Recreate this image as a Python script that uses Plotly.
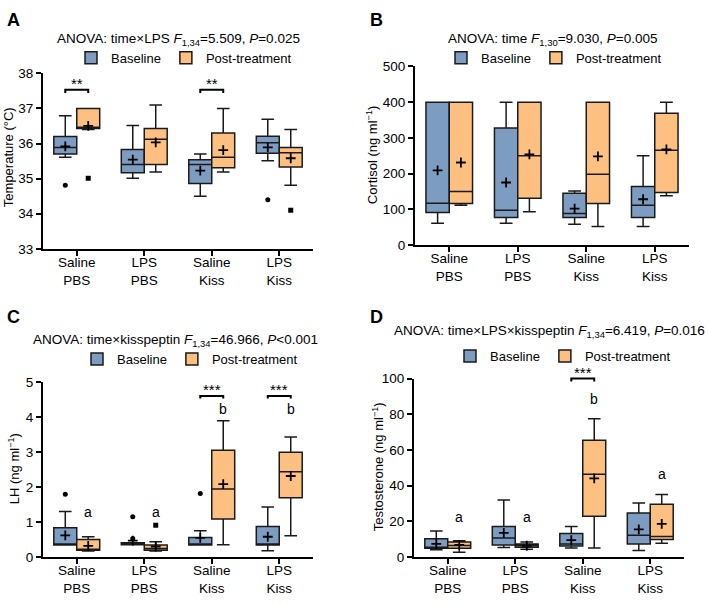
import plotly.graph_objects as go

# ---------------- data ----------------
CATS = ["Saline<br>PBS", "LPS<br>PBS", "Saline<br>Kiss", "LPS<br>Kiss"]
SERIES = ["Baseline", "Post-treatment"]

# Panel A: Temperature (°C)
temp_base_lo   = [35.61, 35.01, 34.50, 35.51]
temp_base_q1   = [35.70, 35.17, 34.86, 35.72]
temp_base_med  = [35.89, 35.40, 35.40, 36.02]
temp_base_q3   = [36.20, 35.83, 35.54, 36.21]
temp_base_hi   = [36.79, 36.51, 35.70, 36.69]
temp_base_mean = [35.92, 35.54, 35.23, 35.89]
temp_base_out_cat = [0, 3]
temp_base_out_val = [34.81, 34.40]
temp_post_lo   = [36.40, 35.19, 35.19, 34.81]
temp_post_q1   = [36.43, 35.40, 35.31, 35.33]
temp_post_med  = [36.46, 36.12, 35.61, 35.74]
temp_post_q3   = [37.00, 36.43, 36.30, 35.89]
temp_post_hi   = [37.00, 37.10, 37.00, 36.40]
temp_post_mean = [36.50, 36.03, 35.81, 35.58]
temp_post_out_cat = [0, 3]
temp_post_out_val = [35.01, 34.10]

# Panel B: Cortisol (ng/ml)
cort_base_lo   = [61, 61, 58, 52]
cort_base_q1   = [91, 77, 77, 77]
cort_base_med  = [117, 97, 88, 111]
cort_base_q3   = [400, 328, 145, 164]
cort_base_hi   = [400, 400, 151, 250]
cort_base_mean = [209, 175, 102, 128]
cort_base_out_cat = []
cort_base_out_val = []
cort_post_lo   = [111, 93, 52, 138]
cort_post_q1   = [116, 131, 116, 147]
cort_post_med  = [150, 250, 198, 265]
cort_post_q3   = [400, 400, 400, 369]
cort_post_hi   = [400, 400, 400, 400]
cort_post_mean = [231, 254, 248, 268]
cort_post_out_cat = []
cort_post_out_val = []

# Panel C: LH (ng/ml)
lh_base_lo   = [0.34, 0.35, 0.34, 0.18]
lh_base_q1   = [0.34, 0.35, 0.34, 0.34]
lh_base_med  = [0.35, 0.38, 0.36, 0.36]
lh_base_q3   = [0.84, 0.41, 0.56, 0.87]
lh_base_hi   = [1.30, 0.41, 0.75, 1.43]
lh_base_mean = [0.62, 0.47, 0.55, 0.58]
lh_base_out_cat = [0, 1, 1, 2]
lh_base_out_val = [1.80, 1.15, 0.53, 1.82]
lh_post_lo   = [0.17, 0.17, 0.35, 0.61]
lh_post_q1   = [0.19, 0.19, 1.09, 1.70]
lh_post_med  = [0.22, 0.24, 1.95, 2.44]
lh_post_q3   = [0.50, 0.34, 3.06, 3.00]
lh_post_hi   = [0.58, 0.44, 3.90, 3.44]
lh_post_mean = [0.32, 0.30, 2.09, 2.32]
lh_post_out_cat = [1]
lh_post_out_val = [0.91]

# Panel D: Testosterone (ng/ml)
tes_base_lo   = [4.0, 5.3, 5.1, 3.6]
tes_base_q1   = [4.9, 6.7, 6.2, 7.3]
tes_base_med  = [5.5, 10.7, 7.3, 12.2]
tes_base_q3   = [10.2, 17.1, 13.1, 24.6]
tes_base_hi   = [14.6, 31.9, 17.1, 30.2]
tes_base_mean = [7.3, 13.5, 9.5, 15.5]
tes_base_out_cat = []
tes_base_out_val = []
tes_post_lo   = [2.7, 4.4, 5.1, 7.7]
tes_post_q1   = [4.9, 5.5, 22.8, 9.8]
tes_post_med  = [6.5, 6.4, 46.3, 11.5]
tes_post_q3   = [8.4, 7.3, 65.4, 29.5]
tes_post_hi   = [9.1, 8.4, 77.4, 35.0]
tes_post_mean = [6.8, 6.3, 44.1, 18.6]
tes_post_out_cat = []
tes_post_out_val = []

# significance marks: (category, text, value)
temp_sig_cat, temp_sig_txt, temp_sig_val = [0, 2], ["**", "**"], [37.53, 37.53]
lh_sig_cat, lh_sig_txt, lh_sig_val = [2, 3], ["***", "***"], [4.61, 4.61]
tes_sig_cat, tes_sig_txt, tes_sig_val = [2], ["***"], [100.0]
lh_let_cat, lh_let_txt, lh_let_val = [0, 1, 2, 3], ["a", "a", "b", "b"], [1.28, 1.28, 4.25, 4.25]
tes_let_cat, tes_let_txt, tes_let_val = [0, 1, 2, 3], ["a", "a", "b", "a"], [22.6, 22.6, 88.7, 46.3]

# ---------------- layout helpers ----------------
W, H = 708, 604
BOXW = 0.34
BLUE = "#7d9cc1"
ORANGE = "#fec081"
EDGE = "#1a1a1a"
FONT = "Arial, Liberation Sans, sans-serif"
FS = 13.5


def px(x):
    return x / W


def py(y):
    return 1 - y / H


panels = [
    dict(s="", letter="A", xdom=(43, 313), ydom=(248, 68), yr=(33, 38), dt=1,
         ytitle="Temperature (°C)", ytx=8, yty=154,
         title="ANOVA: time×LPS <i>F</i><sub>1,34</sub>=5.509, <i>P</i>=0.025",
         tpos=(178, 33), lpos=(184, 52), lett=(13, 13),
         base=(temp_base_lo, temp_base_q1, temp_base_med, temp_base_q3, temp_base_hi, temp_base_mean,
               temp_base_out_cat, temp_base_out_val),
         post=(temp_post_lo, temp_post_q1, temp_post_med, temp_post_q3, temp_post_hi, temp_post_mean,
               temp_post_out_cat, temp_post_out_val),
         sig=(temp_sig_cat, temp_sig_txt, temp_sig_val), leg=0.09, let=None),
    dict(s="2", letter="B", xdom=(415, 689), ydom=(244, 61), yr=(0, 500), dt=100,
         ytitle="Cortisol (ng ml<sup>−1</sup>)", ytx=372, yty=152,
         title="ANOVA: time <i>F</i><sub>1,30</sub>=9.030, <i>P</i>=0.005",
         tpos=(553, 33), lpos=(554, 52), lett=(377, 13),
         base=(cort_base_lo, cort_base_q1, cort_base_med, cort_base_q3, cort_base_hi, cort_base_mean,
               cort_base_out_cat, cort_base_out_val),
         post=(cort_post_lo, cort_post_q1, cort_post_med, cort_post_q3, cort_post_hi, cort_post_mean,
               cort_post_out_cat, cort_post_out_val),
         sig=None, leg=0, let=None),
    dict(s="3", letter="C", xdom=(43, 313), ydom=(564, 385), yr=(0, 5), dt=1,
         ytitle="LH (ng ml<sup>−1</sup>)", ytx=14, yty=474,
         title="ANOVA: time×kisspeptin <i>F</i><sub>1,34</sub>=46.966, <i>P</i><0.001",
         tpos=(175, 342), lpos=(190, 361), lett=(13, 318),
         base=(lh_base_lo, lh_base_q1, lh_base_med, lh_base_q3, lh_base_hi, lh_base_mean,
               lh_base_out_cat, lh_base_out_val),
         post=(lh_post_lo, lh_post_q1, lh_post_med, lh_post_q3, lh_post_hi, lh_post_mean,
               lh_post_out_cat, lh_post_out_val),
         sig=(lh_sig_cat, lh_sig_txt, lh_sig_val), leg=0.07,
         let=(lh_let_cat, lh_let_txt, lh_let_val)),
    dict(s="4", letter="D", xdom=(414, 684), ydom=(564, 381), yr=(0, 100), dt=20,
         ytitle="Testosterone (ng ml<sup>−1</sup>)", ytx=378, yty=472,
         title="ANOVA: time×LPS×kisspeptin <i>F</i><sub>1,34</sub>=6.419, <i>P</i>=0.016",
         tpos=(549, 333), lpos=(563, 358), lett=(377, 318),
         base=(tes_base_lo, tes_base_q1, tes_base_med, tes_base_q3, tes_base_hi, tes_base_mean,
               tes_base_out_cat, tes_base_out_val),
         post=(tes_post_lo, tes_post_q1, tes_post_med, tes_post_q3, tes_post_hi, tes_post_mean,
               tes_post_out_cat, tes_post_out_val),
         sig=(tes_sig_cat, tes_sig_txt, tes_sig_val), leg=1.6,
         let=(tes_let_cat, tes_let_txt, tes_let_val)),
]

fig = go.Figure()
layout = dict(
    width=W, height=H, margin=dict(l=0, r=0, t=0, b=0),
    paper_bgcolor="white", plot_bgcolor="white",
    font=dict(family=FONT, size=FS, color="black"),
    showlegend=True, annotations=[], shapes=[],
)

for p in panels:
    s = p["s"]
    xa, ya = "x" + s, "y" + s
    legname = "legend" + s
    for k, (stats, color, sym) in enumerate([(p["base"], BLUE, "circle"),
                                             (p["post"], ORANGE, "square")]):
        lo, q1, med, q3, hi, mean, ocat, oval = stats
        off = (-0.5 if k == 0 else 0.5) * BOXW
        xs = [i + off for i in range(len(CATS))]
        fig.add_trace(go.Box(
            x=xs, q1=q1, median=med, q3=q3, lowerfence=lo, upperfence=hi,
            width=BOXW, fillcolor=color, line=dict(color=EDGE, width=1.5),
            whiskerwidth=0.55, boxpoints=False, name=SERIES[k],
            xaxis=xa, yaxis=ya, legend=legname, hoverinfo="skip"))
        fig.add_trace(go.Scatter(
            x=xs, y=mean, mode="markers", showlegend=False, hoverinfo="skip",
            marker=dict(symbol="cross-thin", size=7, color="black",
                        line=dict(width=1.8, color="black")),
            xaxis=xa, yaxis=ya, cliponaxis=False))
        if ocat:
            fig.add_trace(go.Scatter(
                x=[c + off for c in ocat], y=oval, mode="markers", showlegend=False,
                hoverinfo="skip", marker=dict(symbol=sym, size=5, color="black"),
                xaxis=xa, yaxis=ya, cliponaxis=False))

    y0, y1 = p["yr"]
    layout["xaxis" + s] = dict(
        domain=[px(p["xdom"][0]), px(p["xdom"][1])], anchor=ya, range=[-0.5, 3.5],
        tickmode="array", tickvals=list(range(len(CATS))), ticktext=CATS,
        showline=True, linecolor="black", linewidth=2, ticks="outside", ticklen=5,
        tickwidth=1.5, tickcolor="black", showgrid=False, zeroline=False,
        tickfont=dict(size=FS), ticklabelstandoff=-5, fixedrange=True)
    layout["yaxis" + s] = dict(
        domain=[py(p["ydom"][0]), py(p["ydom"][1])], anchor=xa, range=[y0, y1],
        dtick=p["dt"], tick0=y0, showline=True, linecolor="black", linewidth=2,
        ticks="outside", ticklen=5, tickwidth=1.5, tickcolor="black",
        showgrid=False, zeroline=False, tickfont=dict(size=FS), fixedrange=True)
    layout[legname] = dict(
        orientation="h", x=px(p["lpos"][0]), y=py(p["lpos"][1]), xanchor="center",
        yanchor="middle", font=dict(size=13), bgcolor="rgba(0,0,0,0)",
        itemwidth=30, traceorder="normal")

    # panel letter, title, y-axis title
    layout["annotations"].append(dict(
        text="<b>%s</b>" % p["letter"], x=px(p["lett"][0]), y=py(p["lett"][1]),
        xref="paper", yref="paper", showarrow=False, font=dict(size=18),
        xanchor="center", yanchor="middle"))
    layout["annotations"].append(dict(
        text=p["title"], x=px(p["tpos"][0]), y=py(p["tpos"][1]), xref="paper",
        yref="paper", showarrow=False, font=dict(size=FS), xanchor="center",
        yanchor="middle"))
    layout["annotations"].append(dict(
        text=p["ytitle"], x=px(p["ytx"]), y=py(p["yty"]),
        xref="paper", yref="paper", showarrow=False, textangle=-90,
        font=dict(size=13), xanchor="center", yanchor="middle"))

    # significance brackets
    if p["sig"]:
        for c, t, v in zip(*p["sig"]):
            xl = (c - BOXW / 2 + 0.5) / 4
            xr = (c + BOXW / 2 + 0.5) / 4
            yb = (v - y0) / (y1 - y0)
            yl = (v - p["leg"] - y0) / (y1 - y0)
            layout["shapes"].append(dict(
                type="path", xref=xa + " domain", yref=ya + " domain",
                path="M%f,%f L%f,%f L%f,%f L%f,%f" % (xl, yl, xl, yb, xr, yb, xr, yl),
                line=dict(color="black", width=2)))
            layout["annotations"].append(dict(
                text=t, x=c, y=v, xref=xa, yref=ya, showarrow=False,
                font=dict(size=15), xanchor="center", yanchor="bottom", yshift=-4))
    if p["let"]:
        for c, t, v in zip(*p["let"]):
            layout["annotations"].append(dict(
                text=t, x=c + BOXW / 2, y=v, xref=xa, yref=ya, showarrow=False,
                font=dict(size=14), xanchor="center", yanchor="middle"))

fig.update_layout(**layout)
fig.write_html(
    "out.html",
    config={"displayModeBar": False},
    post_script="document.body.style.margin='0px';document.body.style.overflow='hidden';",
)
